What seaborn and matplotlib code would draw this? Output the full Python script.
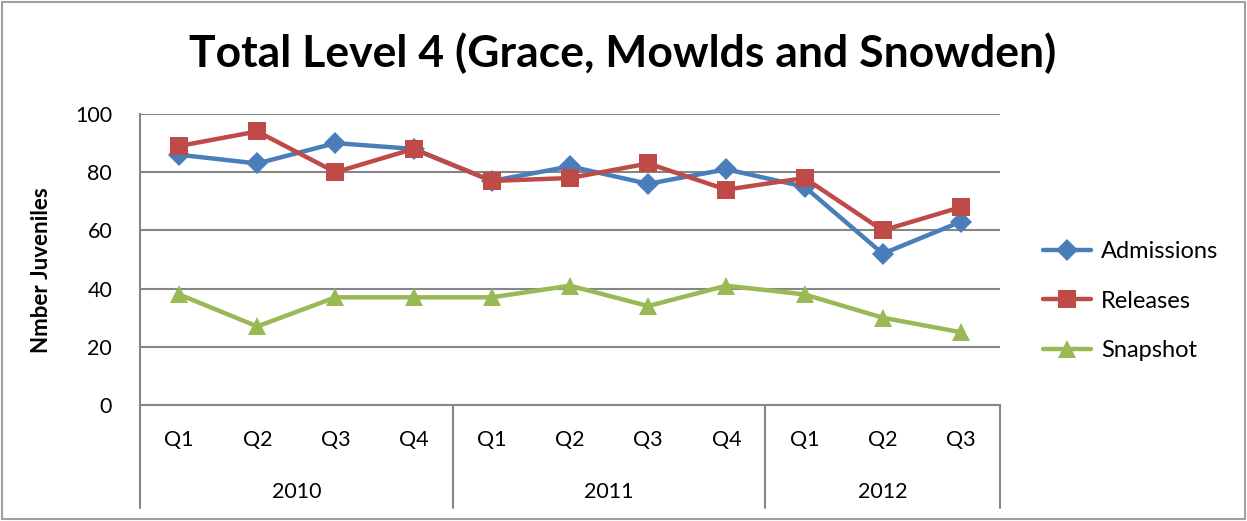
import matplotlib
matplotlib.use("Agg")
import matplotlib.pyplot as plt
import matplotlib.transforms as mtransforms
import seaborn as sns
import pandas as pd
import numpy as np

quarters = ["Q1", "Q2", "Q3", "Q4", "Q1", "Q2", "Q3", "Q4", "Q1", "Q2", "Q3"]
years = ["2010", "2011", "2012"]
year_counts = [4, 4, 3]
admissions = [86, 83, 90, 88, 77, 82, 76, 81, 75, 52, 63]
releases = [89, 94, 80, 88, 77, 78, 83, 74, 78, 60, 68]
snapshot = [38, 27, 37, 37, 37, 41, 34, 41, 38, 30, 25]
series_names = ["Admissions", "Releases", "Snapshot"]

sns.set_style("white")
plt.rcParams["font.family"] = ["Lato", "DejaVu Sans"]
plt.rcParams["text.color"] = "black"
plt.rcParams["axes.labelcolor"] = "black"

rows = []
for name, vals in zip(series_names, [admissions, releases, snapshot]):
    for i, v in enumerate(vals):
        rows.append({"idx": i, "value": v, "series": name})
df = pd.DataFrame(rows)

W, H = 1247, 521
fig = plt.figure(figsize=(W / 100, H / 100), dpi=100)
ax = fig.add_axes([140 / W, (H - 405) / H, (1000 - 140) / W, (405 - 114) / H])

palette = {"Admissions": "#4A7EBB", "Releases": "#BE4B48", "Snapshot": "#98B954"}
markers = {"Admissions": "D", "Releases": "s", "Snapshot": "^"}
sizes_m = {"Admissions": 11, "Releases": 13, "Snapshot": 13}

for name in series_names:
    sub = df[df.series == name]
    sns.lineplot(data=sub, x="idx", y="value", ax=ax, color=palette[name],
                 marker=markers[name], markersize=sizes_m[name], linewidth=3.2,
                 markeredgewidth=0, label=name, zorder=3)

ax.set_xlim(-0.5, len(quarters) - 0.5)
ax.set_ylim(0, 100)
ax.set_yticks(np.arange(0, 101, 20))
ax.yaxis.grid(True, color="#868686", linewidth=1.5)
ax.set_axisbelow(True)
ax.tick_params(axis="y", labelsize=15.5, length=0, pad=20, colors="black")
ax.set_xticks([])
ax.set_xlabel("")
ax.set_ylabel("")
fig.text(42 / W, 1 - 270 / H, "Nmber Juveniles", rotation=90, ha="center", va="center",
         fontsize=16, fontweight="bold")
for s in ["top", "right"]:
    ax.spines[s].set_visible(False)
for s in ["left", "bottom"]:
    ax.spines[s].set_color("#868686")
    ax.spines[s].set_linewidth(1.5)

# multi-level category labels
trans = mtransforms.blended_transform_factory(ax.transData, ax.transAxes)
ax_h = 405 - 114
y_q = -(440 - 405) / ax_h
y_y = -(492 - 405) / ax_h
y_bot = -(508 - 405) / ax_h
for i, q in enumerate(quarters):
    ax.text(i, y_q, q, transform=trans, ha="center", va="center", fontsize=15.5)
start = 0
bounds = [-0.5]
for yr, n in zip(years, year_counts):
    center = start + (n - 1) / 2
    ax.text(center, y_y, yr, transform=trans, ha="center", va="center", fontsize=15.5)
    start += n
    bounds.append(start - 0.5)
for b in bounds:
    ax.plot([b, b], [0, y_bot], transform=trans, color="#868686", lw=1.5, clip_on=False)

fig.text(623 / W, 1 - 53 / H, "Total Level 4 (Grace, Mowlds and Snowden)", fontsize=32,
         fontweight="bold", ha="center", va="center")

if ax.get_legend():
    ax.get_legend().remove()
handles, labels = ax.get_legend_handles_labels()
fig.legend(handles, labels, loc="center left", bbox_to_anchor=(1043 / W, 1 - 301 / H),
           frameon=False, fontsize=17, handlelength=2.05, labelspacing=1.2,
           handletextpad=0.4, borderpad=0, borderaxespad=0)

# outer frame
fig.patches.append(plt.Rectangle((0.002, 0.004), 0.996, 0.992, transform=fig.transFigure,
                                 fill=False, edgecolor="#A0A0A0", linewidth=1.5))

fig.savefig("out.png", dpi=100)
